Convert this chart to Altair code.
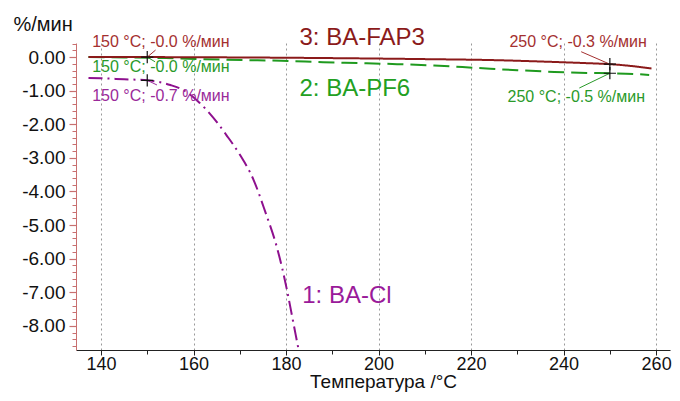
import altair as alt
import pandas as pd

# ---- data ----
temp_fap3 = [137.3, 150, 170, 190, 210, 225, 237, 245, 250, 255, 259]
rate_fap3 = [0.0, 0.0, -0.01, -0.03, -0.06, -0.09, -0.14, -0.18, -0.21, -0.27, -0.34]

temp_pf6 = [137.3, 145, 154, 162, 171, 179, 188, 196, 204, 212, 221, 230, 238, 245, 250, 255, 258.5]
rate_pf6 = [0.0, -0.01, -0.03, -0.06, -0.09, -0.11, -0.15, -0.18, -0.21, -0.25, -0.32, -0.39, -0.44, -0.47, -0.48, -0.5, -0.53]

temp_cl = [137.3, 140, 145, 150, 155, 158, 161, 163, 165.3, 167, 170, 173, 175.5, 178, 179.2, 180.3, 181.5, 182.7]
rate_cl = [-0.62, -0.63, -0.66, -0.69, -0.83, -1.0, -1.32, -1.6, -1.98, -2.3, -2.9, -3.66, -4.6, -5.65, -6.3, -7.0, -7.85, -8.7]

series_names = ["3: BA-FAP3", "2: BA-PF6", "1: BA-Cl"]
series_colors = ["#8b1a1a", "#1f9a1f", "#8e108e"]
series_dash = [[1, 0], [16, 7], [14, 5, 2, 5]]

# markers (+) at the evaluated points
mark_temp = [150, 150, 250, 250]
mark_rate = [0.0, -0.69, -0.21, -0.48]

# point annotations
ann_text_left = ["150 °C; -0.0 %/мин", "150 °C; -0.0 %/мин", "150 °C; -0.7 %/мин"]
ann_x_left = [138.1, 138.1, 138.1]
ann_y_left = [0.45, -0.29, -1.16]
ann_color_left = ["#a43030", "#2a9a2a", "#9a2a9a"]

ann_text_right = ["250 °C; -0.3 %/мин", "250 °C; -0.5 %/мин"]
ann_x_right = [258.0, 257.6]
ann_y_right = [0.44, -1.19]
ann_color_right = ["#a43030", "#2a9a2a"]

# leader lines from labels to markers
lead_x = [150, 150, 150, 243.8, 243.4]
lead_y = [0.0, 0.0, -0.69, 0.16, -0.92]
lead_x2 = [151.8, 151.7, 152.1, 250, 250]
lead_y2 = [0.21, -0.14, -0.83, -0.21, -0.48]
lead_color = ["#a43030", "#2a9a2a", "#9a2a9a", "#a43030", "#2a9a2a"]

# series name labels
name_x = [182.9, 182.9, 183.5]
name_y = [0.58, -0.95, -7.11]
name_color = ["#8b1a1a", "#22a022", "#9a1a9a"]

x_major = [140, 160, 180, 200, 220, 240, 260]
x_minor = [140, 150, 160, 170, 180, 190, 200, 210, 220, 230, 240, 250, 260]
y_major = [0, -1, -2, -3, -4, -5, -6, -7, -8]
y_minor = [0.4, 0.2, 0.0, -0.2, -0.4, -0.6, -0.8, -1.0, -1.2, -1.4, -1.6, -1.8, -2.0,
           -2.2, -2.4, -2.6, -2.8, -3.0, -3.2, -3.4, -3.6, -3.8, -4.0, -4.2, -4.4,
           -4.6, -4.8, -5.0, -5.2, -5.4, -5.6, -5.8, -6.0, -6.2, -6.4, -6.6, -6.8,
           -7.0, -7.2, -7.4, -7.6, -7.8, -8.0, -8.2, -8.4, -8.6]

FONT = "Liberation Sans"

# ---- tables (FAP3 last so its solid line is drawn on top) ----
lines = pd.concat([
    pd.DataFrame({"T": temp_cl, "R": rate_cl, "s": series_names[2]}),
    pd.DataFrame({"T": temp_pf6, "R": rate_pf6, "s": series_names[1]}),
    pd.DataFrame({"T": temp_fap3, "R": rate_fap3, "s": series_names[0]}),
])
markers = pd.DataFrame({"T": mark_temp, "R": mark_rate})
ann_l = pd.DataFrame({"T": ann_x_left, "R": ann_y_left, "t": ann_text_left, "c": ann_color_left})
ann_r = pd.DataFrame({"T": ann_x_right, "R": ann_y_right, "t": ann_text_right, "c": ann_color_right})
leads = pd.DataFrame({"T": lead_x, "R": lead_y, "T2": lead_x2, "R2": lead_y2, "c": lead_color})
names = pd.DataFrame({"T": name_x, "R": name_y, "t": series_names, "c": name_color})

xscale = alt.Scale(domain=[134.6, 263.0], nice=False, zero=False)
yscale = alt.Scale(domain=[-8.72, 0.42], nice=False, zero=False)

xaxis = alt.Axis(
    values=x_major,
    title="Температура /°C",
    titleFont=FONT, titleFontSize=19, titleFontWeight="normal", titleColor="#111",
    titleX=307, titleY=37, titleBaseline="alphabetic", titleAlign="center",
    labelFont=FONT, labelFontSize=18, labelColor="#111", labelPadding=0,
    labelFlush=False, labelOverlap=False,
    domainColor="#222", tickColor="#222", tickSize=5,
    grid=True, gridColor="#999", gridDash=[2, 3], gridWidth=1,
)
xaxis_minor = alt.Axis(
    values=x_minor, orient="bottom", labels=False, title=None, domain=False,
    grid=False, tickColor="#222", tickSize=4,
)
yaxis = alt.Axis(
    values=y_major,
    labelExpr="replace(format(datum.value, '.2f'), '\u2212', '-')",
    title="%/мин",
    titleFont=FONT, titleFontSize=20, titleFontWeight="normal", titleColor="#111",
    titleAngle=0, titleX=-63, titleY=-19, titleAlign="left", titleBaseline="middle",
    labelFont=FONT, labelFontSize=19, labelColor="#111", labelPadding=4,
    labelOverlap=False, labelFlush=False,
    domainColor="#c87070", tickColor="#c87070", tickSize=7, tickWidth=1.2,
    grid=False,
)
yaxis_minor = alt.Axis(
    values=y_minor, orient="left", labels=False, title=None, domain=False,
    grid=False, tickColor="#c87070", tickSize=4,
)

line_layer = alt.Chart(lines).mark_line(strokeWidth=2, clip=True, interpolate="monotone").encode(
    x=alt.X("T:Q", scale=xscale, axis=xaxis),
    y=alt.Y("R:Q", scale=yscale, axis=yaxis),
    color=alt.Color("s:N", scale=alt.Scale(domain=series_names, range=series_colors), legend=None),
    strokeDash=alt.StrokeDash("s:N", scale=alt.Scale(domain=series_names, range=series_dash), legend=None),
    detail="s:N",
)

lead_layer = alt.Chart(leads).mark_rule(strokeWidth=1).encode(
    x=alt.X("T:Q", scale=xscale, axis=xaxis_minor),
    y=alt.Y("R:Q", scale=yscale, axis=yaxis_minor),
    x2="T2:Q", y2="R2:Q",
    color=alt.Color("c:N", scale=None),
)

marker_layer = alt.Chart(markers).mark_point(
    shape="M-1,0L1,0M0,-1L0,1", size=150, filled=False, color="#111", strokeWidth=1.2, opacity=1
).encode(x=alt.X("T:Q", axis=None), y=alt.Y("R:Q", axis=None))

ann_left_layer = alt.Chart(ann_l).mark_text(
    align="left", baseline="middle", font=FONT, fontSize=16
).encode(x=alt.X("T:Q", axis=None), y=alt.Y("R:Q", axis=None), text="t:N",
         color=alt.Color("c:N", scale=None))

ann_right_layer = alt.Chart(ann_r).mark_text(
    align="right", baseline="middle", font=FONT, fontSize=16
).encode(x=alt.X("T:Q", axis=None), y=alt.Y("R:Q", axis=None), text="t:N",
         color=alt.Color("c:N", scale=None))

name_layer = alt.Chart(names).mark_text(
    align="left", baseline="middle", font=FONT, fontSize=24
).encode(x=alt.X("T:Q", axis=None), y=alt.Y("R:Q", axis=None), text="t:N",
         color=alt.Color("c:N", scale=None))

chart = alt.layer(
    line_layer, lead_layer, marker_layer, ann_left_layer, ann_right_layer, name_layer
).resolve_scale(color="independent").resolve_axis(x="independent", y="independent").properties(
    width=594, height=307,
    autosize="none",
    padding={"left": 68, "top": 35, "right": 2, "bottom": 42},
    background="white",
).configure_view(stroke=None)

chart.save("out.html", embed_options={"renderer": "svg", "actions": False})
